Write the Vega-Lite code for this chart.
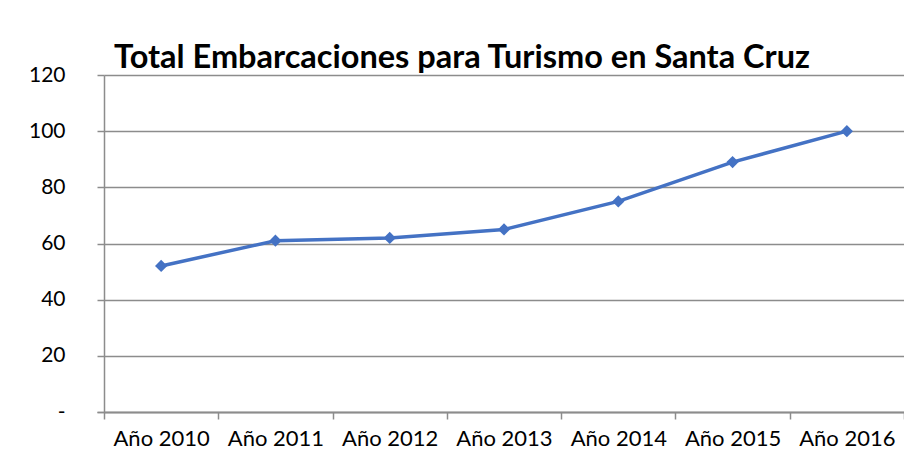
{
  "$schema": "https://vega.github.io/schema/vega-lite/v6.json",
  "width": 800,
  "height": 337,
  "autosize": {"type": "none"},
  "padding": {"left": 104, "top": 75, "right": 0, "bottom": 41},
  "background": "white",
  "title": {
    "text": "Total Embarcaciones  para Turismo en Santa  Cruz",
    "font": "Lato",
    "fontSize": 32.5,
    "fontWeight": "bold",
    "color": "black",
    "anchor": "middle",
    "baseline": "alphabetic",
    "offset": 0,
    "dy": 36,
    "dx": -42
  },
  "config": {
    "view": {"stroke": null},
    "font": "Lato",
    "axis": {"tickBand": "extent"}
  },
  "data": {
    "values": [
      {"year": "Año 2010", "value": 52},
      {"year": "Año 2011", "value": 61},
      {"year": "Año 2012", "value": 62},
      {"year": "Año 2013", "value": 65},
      {"year": "Año 2014", "value": 75},
      {"year": "Año 2015", "value": 89},
      {"year": "Año 2016", "value": 100}
    ]
  },
  "encoding": {
    "x": {
      "field": "year",
      "type": "ordinal",
      "scale": {"type": "band", "paddingInner": 0, "paddingOuter": 0},
      "axis": {
        "title": null,
        "labelAngle": 0,
        "labelFontSize": 22,
        "labelColor": "black",
        "labelPadding": 9,
        "domainColor": "#8c8c8c",
        "domainWidth": 1.5,
        "tickColor": "#8c8c8c",
        "tickWidth": 1.5,
        "tickSize": 7,
        "tickBand": "extent",
        "grid": false
      }
    },
    "y": {
      "field": "value",
      "type": "quantitative",
      "scale": {"domain": [0, 120], "nice": false},
      "axis": {
        "title": null,
        "values": [0, 20, 40, 60, 80, 100, 120],
        "labelExpr": "datum.value == 0 ? '-' : datum.label",
        "labelFontSize": 21,
        "labelColor": "black",
        "labelPadding": 32,
        "domainColor": "#8c8c8c",
        "domainWidth": 1.5,
        "tickColor": "#8c8c8c",
        "tickWidth": 1.5,
        "tickSize": 7,
        "gridColor": "#8c8c8c",
        "gridWidth": 1.5
      }
    }
  },
  "layer": [
    {
      "mark": {"type": "line", "color": "#4472C4", "strokeWidth": 3.5}
    },
    {
      "mark": {"type": "point", "shape": "diamond", "filled": true, "color": "#4472C4", "size": 150, "opacity": 1}
    }
  ]
}
